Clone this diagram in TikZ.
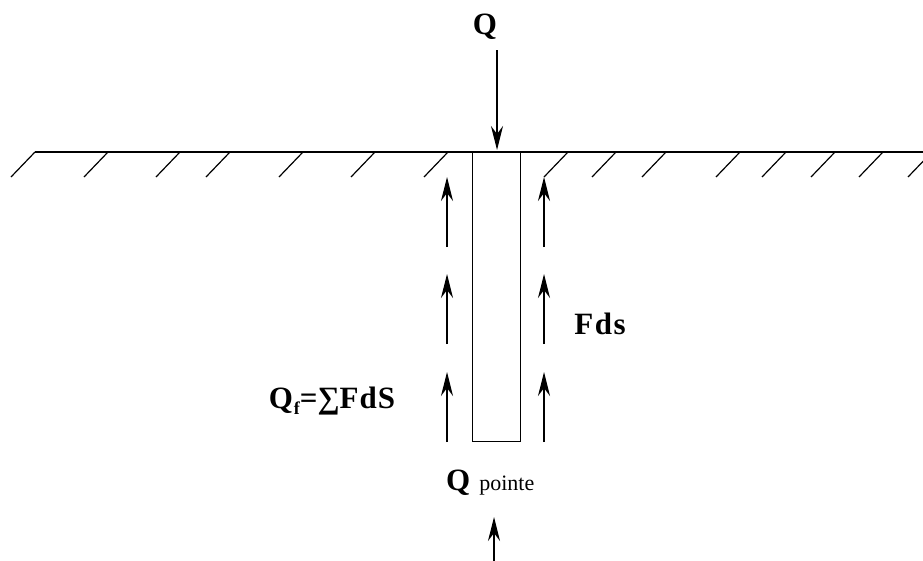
\documentclass[tikz,border=0pt]{standalone}
\usepackage{fontspec}
\setmainfont{Liberation Serif}
\usetikzlibrary{arrows.meta}
\begin{document}
\begin{tikzpicture}[x=1pt,y=-1pt,
  line/.style={line width=1.2pt},
  force/.style={line width=1.2pt,-{Stealth[length=24pt,width=12pt,inset=8pt]}},
  lbl/.style={font=\fontsize{31}{33}\selectfont\bfseries,inner sep=0pt}]
\useasboundingbox (0,0) rectangle (923,560);
\clip (0,0) rectangle (923,560);
% ground
\draw[line] (35,152) -- (935,152);
\foreach \x in {35,108,180,230,303,375,448,568,616,666,740,786,835,883,932}
  \draw[line] (\x,152) -- ++(-24,25);
% pile
\node[draw,line width=1.2pt,minimum width=48pt,minimum height=289pt,inner sep=0pt,anchor=north west] (pile) at (472,152) {};
% top load
\node[lbl] (Q) at (485,27) {Q};
\coordinate (qs) at (497,50);
\coordinate (qe) at (497,150);
\draw[force] (qs) -- (qe);
% side friction arrows
\foreach \i/\yb/\yt in {1/247/177,2/344/274,3/442/372}{
  \coordinate (L\i b) at (447,\yb); \coordinate (L\i t) at (447,\yt);
  \coordinate (R\i b) at (544,\yb); \coordinate (R\i t) at (544,\yt);
  \draw[force] (L\i b) -- (L\i t);
  \draw[force] (R\i b) -- (R\i t);
}
\node[lbl] (fds) at (600,324) {F\kern1.5pt d\kern1.5pt s};
\node[lbl] (qf) at (332,401) {Q\kern1pt{\fontsize{18}{20}\selectfont\raisebox{-6pt}{f}}=∑F\kern1ptd\kern1ptS};
% tip
\node[lbl,anchor=base west] (qp) at (446,490) {Q\hspace{9pt}{\fontsize{22}{24}\selectfont\mdseries pointe}};
\coordinate (pb) at (494,562);
\coordinate (pt) at (494,517);
\draw[force] (pb) -- (pt);
\end{tikzpicture}
\end{document}
